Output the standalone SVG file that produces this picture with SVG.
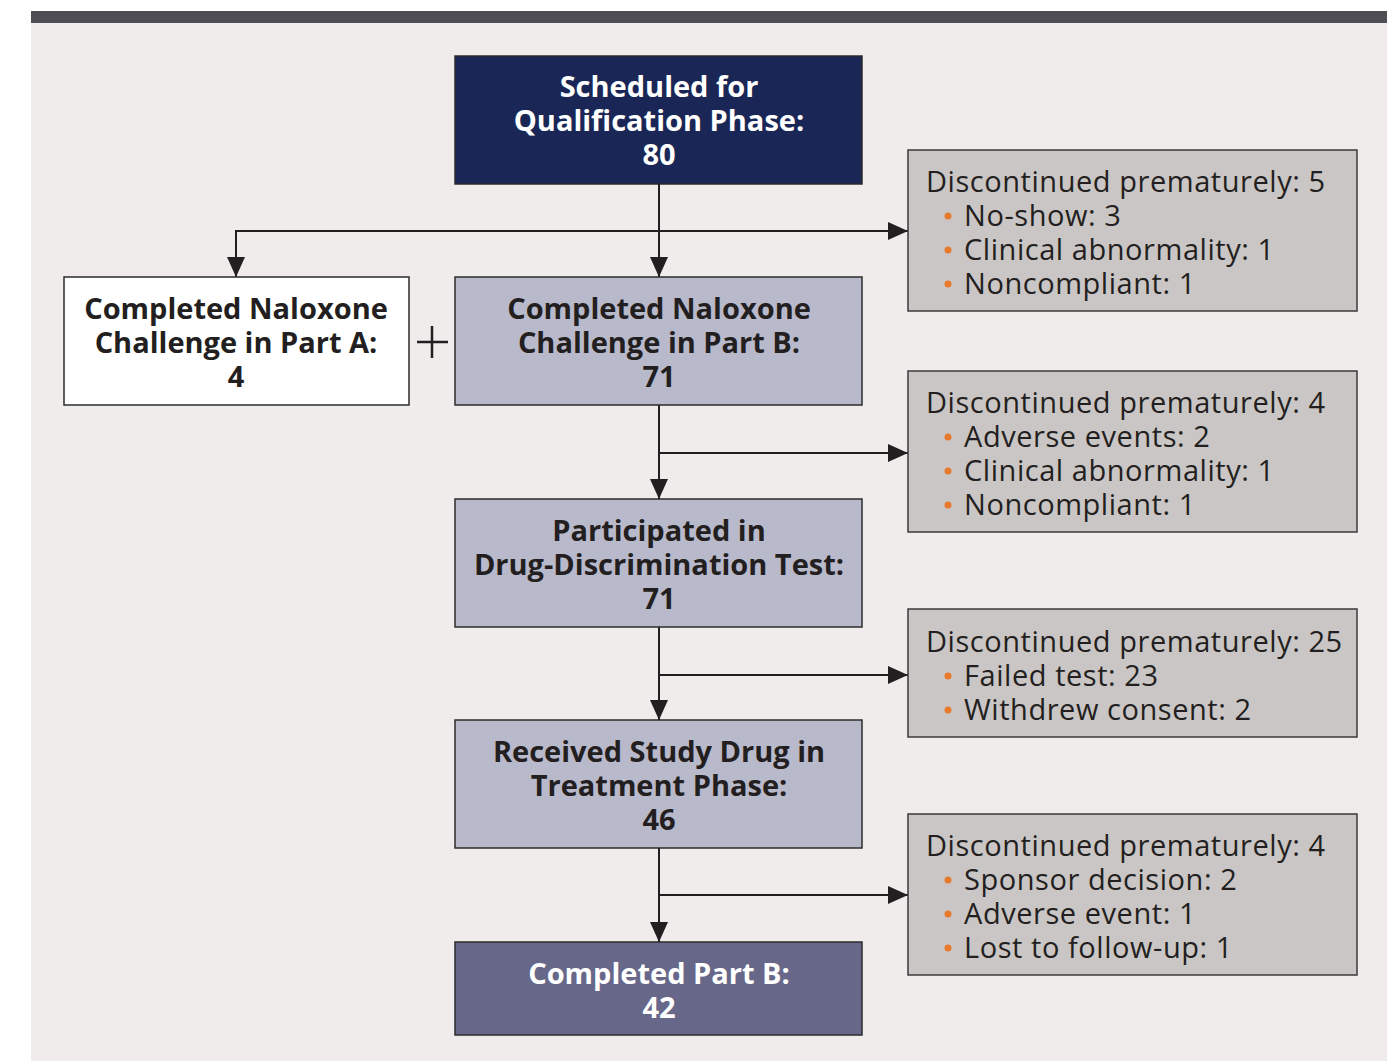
<svg xmlns="http://www.w3.org/2000/svg" width="1387" height="1061" viewBox="0 0 1387 1061">
<style>
.node{stroke:#2b2b2b;stroke-width:1.5}
.side{fill:#cac6c5;stroke:#3a3a3a;stroke-width:1.5}
.bt{font-family:"Open Sans","Liberation Sans",sans-serif;font-weight:700;font-size:29px;text-anchor:middle}
.st{font-family:"Open Sans","Liberation Sans",sans-serif;font-size:29px;fill:#231f20;letter-spacing:0.55px}
.bul{fill:#e87a2e}
.conn{stroke:#231f20;stroke-width:2;fill:none}
</style>
<defs>
<marker id="ahb" viewBox="0 0 20 18" refX="20" refY="9" markerWidth="20" markerHeight="18" markerUnits="userSpaceOnUse" orient="auto">
<path d="M0,0 L20,9 L0,18 z" fill="#231f20"/>
</marker>
</defs>
<rect x="0" y="0" width="1387" height="1061" fill="#ffffff"/>
<rect x="31" y="23" width="1356" height="1038" fill="#f0ecec"/>
<rect x="31" y="11" width="1356" height="12" fill="#4e4f55"/>

<g id="connectors">
<line class="conn" x1="659" y1="184" x2="659" y2="277" marker-end="url(#ahb)"/>
<polyline class="conn" points="659,231 236,231 236,277" marker-end="url(#ahb)"/>
<line class="conn" x1="659" y1="231" x2="908" y2="231" marker-end="url(#ahb)"/>
<line class="conn" x1="659" y1="405" x2="659" y2="499" marker-end="url(#ahb)"/>
<line class="conn" x1="659" y1="453" x2="908" y2="453" marker-end="url(#ahb)"/>
<line class="conn" x1="659" y1="627" x2="659" y2="720" marker-end="url(#ahb)"/>
<line class="conn" x1="659" y1="675" x2="908" y2="675" marker-end="url(#ahb)"/>
<line class="conn" x1="659" y1="848" x2="659" y2="942" marker-end="url(#ahb)"/>
<line class="conn" x1="659" y1="895" x2="908" y2="895" marker-end="url(#ahb)"/>
</g>

<g id="plus">
<line x1="417" y1="342" x2="448" y2="342" stroke="#231f20" stroke-width="2.5"/>
<line x1="432" y1="326" x2="432" y2="358" stroke="#231f20" stroke-width="2.5"/>
</g>

<g id="scheduled">
<rect class="node" x="455" y="56" width="407" height="128" fill="#1a2756"/>
<text class="bt" fill="#ffffff"><tspan x="659" y="97">Scheduled for</tspan><tspan x="659" y="131">Qualification Phase:</tspan><tspan x="659" y="165">80</tspan></text>
</g>

<g id="partA">
<rect class="node" x="64" y="277" width="345" height="128" fill="#ffffff"/>
<text class="bt" fill="#231f20"><tspan x="236" y="319">Completed Naloxone</tspan><tspan x="236" y="353">Challenge in Part A:</tspan><tspan x="236" y="387">4</tspan></text>
</g>

<g id="partB">
<rect class="node" x="455" y="277" width="407" height="128" fill="#b9b9cc"/>
<text class="bt" fill="#231f20"><tspan x="659" y="319">Completed Naloxone</tspan><tspan x="659" y="353">Challenge in Part B:</tspan><tspan x="659" y="387">71</tspan></text>
</g>

<g id="participated">
<rect class="node" x="455" y="499" width="407" height="128" fill="#b9b9cc"/>
<text class="bt" fill="#231f20"><tspan x="659" y="541">Participated in</tspan><tspan x="659" y="575">Drug-Discrimination Test:</tspan><tspan x="659" y="609">71</tspan></text>
</g>

<g id="received">
<rect class="node" x="455" y="720" width="407" height="128" fill="#b9b9cc"/>
<text class="bt" fill="#231f20"><tspan x="659" y="762">Received Study Drug in</tspan><tspan x="659" y="796">Treatment Phase:</tspan><tspan x="659" y="830">46</tspan></text>
</g>

<g id="completed">
<rect class="node" x="455" y="942" width="407" height="93" fill="#676889"/>
<text class="bt" fill="#ffffff"><tspan x="659" y="984">Completed Part B:</tspan><tspan x="659" y="1018">42</tspan></text>
</g>

<g id="disc1">
<rect class="side" x="908" y="150" width="449" height="161"/>
<text class="st"><tspan x="926" y="192">Discontinued prematurely: 5</tspan><tspan x="964" y="226">No-show: 3</tspan><tspan x="964" y="260">Clinical abnormality: 1</tspan><tspan x="964" y="294">Noncompliant: 1</tspan></text>
<circle class="bul" cx="948" cy="216" r="3.5"/><circle class="bul" cx="948" cy="250" r="3.5"/><circle class="bul" cx="948" cy="284" r="3.5"/>
</g>

<g id="disc2">
<rect class="side" x="908" y="371" width="449" height="161"/>
<text class="st"><tspan x="926" y="413">Discontinued prematurely: 4</tspan><tspan x="964" y="447">Adverse events: 2</tspan><tspan x="964" y="481">Clinical abnormality: 1</tspan><tspan x="964" y="515">Noncompliant: 1</tspan></text>
<circle class="bul" cx="948" cy="437" r="3.5"/><circle class="bul" cx="948" cy="471" r="3.5"/><circle class="bul" cx="948" cy="505" r="3.5"/>
</g>

<g id="disc3">
<rect class="side" x="908" y="609" width="449" height="128"/>
<text class="st"><tspan x="926" y="652">Discontinued prematurely: 25</tspan><tspan x="964" y="686">Failed test: 23</tspan><tspan x="964" y="720">Withdrew consent: 2</tspan></text>
<circle class="bul" cx="948" cy="676" r="3.5"/><circle class="bul" cx="948" cy="710" r="3.5"/>
</g>

<g id="disc4">
<rect class="side" x="908" y="814" width="449" height="161"/>
<text class="st"><tspan x="926" y="856">Discontinued prematurely: 4</tspan><tspan x="964" y="890">Sponsor decision: 2</tspan><tspan x="964" y="924">Adverse event: 1</tspan><tspan x="964" y="958">Lost to follow-up: 1</tspan></text>
<circle class="bul" cx="948" cy="880" r="3.5"/><circle class="bul" cx="948" cy="914" r="3.5"/><circle class="bul" cx="948" cy="948" r="3.5"/>
</g>
</svg>
